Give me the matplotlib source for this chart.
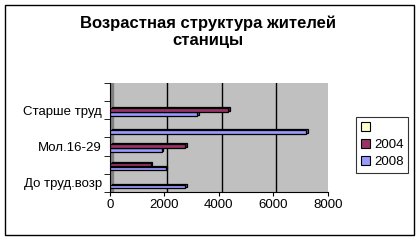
import numpy as np
import matplotlib.pyplot as plt
from matplotlib.patches import Rectangle

# Данные (снизу вверх)
categories = ["До труд.возр", "", "Мол.16-29", "", "Старше труд", ""]
v2008 = [2750, 2050, 1900, 7200, 3200, 0]
v2004 = [0, 1500, 2750, 0, 4350, 0]
v_empty = [0, 0, 0, 0, 0, 0]

plt.rcParams['font.family'] = ['Liberation Sans', 'DejaVu Sans']

fig = plt.figure(figsize=(4.19, 2.41), dpi=100)
fig.patches.append(Rectangle((0.012, 0.025), 0.975, 0.955, transform=fig.transFigure,
                             fill=False, edgecolor="black", lw=1.0))

fig.text(0.497, 0.868, "Возрастная структура жителей\nстаницы", ha="center", va="center",
         fontsize=12, fontweight="bold", linespacing=1.1)

ax = fig.add_axes([0.2625, 0.203, 0.52, 0.453])
ax.set_facecolor("#C0C0C0")

y = np.arange(len(categories))
h = 0.2
series = [(v2008, -0.2, "#9999FF", "#5A5AB0"),
          (v2004, 0.02, "#993366", "#5C1F3D"),
          (v_empty, 0.24, "#FFFFCC", "#B0B080")]
for vals, off, col, dark in series:
    for yi, v in zip(y, vals):
        if v <= 0:
            continue
        # псевдо-3D: тёмная "глубина" позади
        ax.barh(yi + off + 0.06, v, height=h, left=60, color=dark, edgecolor="black", lw=0.9, zorder=2)
        ax.barh(yi + off, v, height=h, color=col, edgecolor="black", lw=0.9, zorder=3)

ax.set_xlim(0, 8000)
ax.set_ylim(-0.5, len(categories) - 0.5)
ax.set_xticks([0, 2000, 4000, 6000, 8000])
ax.set_xticklabels(["0", "2000", "4000", "6000", "8000"], fontsize=9.5)
for gx in [2000, 4000, 6000]:
    ax.axvline(gx + 100, color="black", lw=1.0, zorder=1)

ax.set_yticks(y)
ax.set_yticklabels(categories, fontsize=9.5)
ax.tick_params(axis="y", length=0, pad=6)
ax.set_yticks(np.arange(-0.5, len(categories)), minor=True)
ax.tick_params(axis="y", which="minor", length=4, direction="out")
ax.tick_params(axis="x", length=3, direction="out", pad=2)

# левая стенка
ax.add_patch(Rectangle((0, -0.5), 120, len(categories), color="#808080", zorder=1))

for s in ["top", "right"]:
    ax.spines[s].set_visible(False)
ax.spines["left"].set_linewidth(0.8)
ax.spines["bottom"].set_linewidth(0.8)

handles = [Rectangle((0, 0), 1, 1, facecolor=c, edgecolor="black", lw=0.8)
           for c in ["#FFFFCC", "#993366", "#9999FF"]]
leg = fig.legend(handles, ["", "2004", "2008"], loc="center",
                 bbox_to_anchor=(0.912, 0.398), fontsize=9.5, frameon=True, fancybox=False,
                 handlelength=0.7, handleheight=0.7, handletextpad=0.3, borderpad=0.35,
                 labelspacing=0.35)
leg.get_frame().set_edgecolor("black")
leg.get_frame().set_linewidth(0.8)

fig.savefig("out.png", dpi=100)
